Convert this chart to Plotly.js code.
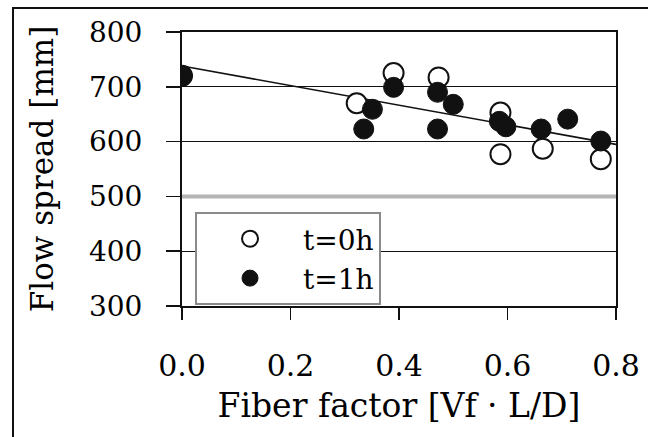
<!DOCTYPE html>
<html>
<head>
<meta charset="utf-8">
<script src="https://cdn.plot.ly/plotly-3.0.1.min.js"></script>
<style>
  html, body { margin: 0; padding: 0; background: #fff; }
  #wrap { position: relative; width: 648px; height: 437px; }
  #chart { position: absolute; left: 0; top: 0; width: 648px; height: 437px; }
  #frame { position: absolute; left: 12px; top: 7px; width: 640px; height: 440px;
           border-left: 2px solid #111; border-top: 2px solid #111; pointer-events: none; }
</style>
</head>
<body>
<div id="wrap"><div id="chart"></div><div id="frame"></div></div>
<script>
// t = 0h (open circles)
const x0h = [0, 0.322, 0.39, 0.473, 0.587, 0.587, 0.665, 0.772];
const y0h = [720, 670, 725, 717, 653, 577, 587, 568];
// t = 1h (filled circles)
const x1h = [0, 0.335, 0.351, 0.39, 0.471, 0.471, 0.50, 0.585, 0.597, 0.662, 0.711, 0.772];
const y1h = [720, 623, 659, 699, 690, 623, 668, 637, 627, 623, 641, 601];
// regression line end points
const trendX = [0, 0.8];
const trendY = [738, 595];
const xTicks = [0, 0.2, 0.4, 0.6, 0.8];
const yTicks = [300, 400, 500, 600, 700, 800];
const highlightLevel = 500;

const fontFam = 'DejaVu Serif, Liberation Serif, serif';

const traces = [
  {x: trendX, y: trendY, mode: 'lines', line: {color: '#111', width: 1.6}, showlegend: false, hoverinfo: 'skip'},
  {x: x0h, y: y0h, mode: 'markers', name: 't=0h',
   marker: {symbol: 'circle', size: 20, color: '#fff', line: {color: '#111', width: 2}}},
  {x: x1h, y: y1h, mode: 'markers', name: 't=1h',
   marker: {symbol: 'circle', size: 20, color: '#111', line: {color: '#111', width: 1}}}
];

const layout = {
  width: 648, height: 437,
  margin: {l: 182, r: 32, t: 32, b: 131},
  paper_bgcolor: '#fff', plot_bgcolor: '#fff',
  font: {family: fontFam, color: '#000'},
  xaxis: {
    range: [0, 0.8], tickvals: xTicks, tickformat: '.1f',
    showgrid: false, zeroline: false,
    showline: true, linecolor: '#111', linewidth: 2, mirror: true,
    ticks: 'outside', ticklen: 12, tickwidth: 1.5, tickcolor: '#111',
    ticklabelstandoff: 20,
    tickfont: {size: 30, family: fontFam, color: '#000'},
    title: {text: 'Fiber factor [Vf · L/D]', font: {size: 33, family: fontFam, color: '#000'}, standoff: 12},
    automargin: false
  },
  yaxis: {
    range: [300, 800], tickvals: yTicks,
    showgrid: true, gridcolor: '#111', gridwidth: 1.3, zeroline: false,
    showline: true, linecolor: '#111', linewidth: 2, mirror: true,
    ticks: 'outside', ticklen: 14, tickwidth: 1.5, tickcolor: '#111',
    ticklabelstandoff: 18,
    tickfont: {size: 28, family: fontFam, color: '#000'},
    title: {text: 'Flow spread [mm]', font: {size: 31, family: fontFam, color: '#000'}, standoff: 26},
    automargin: false
  },
  shapes: [
    {type: 'line', xref: 'paper', x0: 0, x1: 1, yref: 'y', y0: highlightLevel, y1: highlightLevel,
     line: {color: '#b4b4b4', width: 4}, layer: 'above'}
  ],
  legend: {
    x: 0.03, y: 0.343, xanchor: 'left', yanchor: 'top',
    bgcolor: '#fff', bordercolor: '#8a8a8a', borderwidth: 2,
    font: {size: 28, family: fontFam, color: '#000'},
    itemwidth: 96, tracegroupgap: 0
  },
  showlegend: true
};

Plotly.newPlot('chart', traces, layout, {displayModeBar: false, staticPlot: true});
</script>
</body>
</html>
